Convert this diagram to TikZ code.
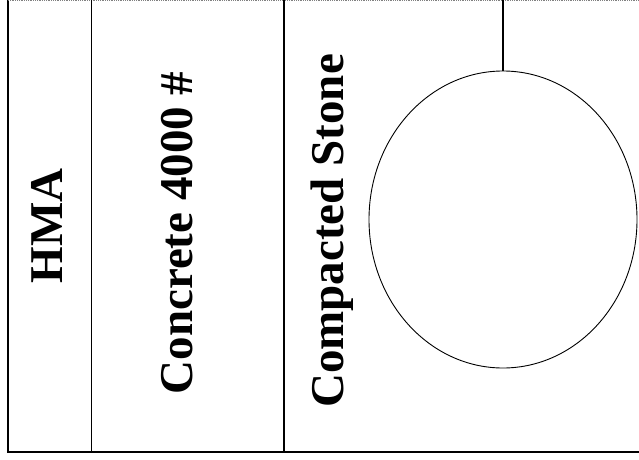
\documentclass[tikz,border=0pt]{standalone}
\usepackage{fontspec}
\setmainfont{Liberation Serif}
\usepackage{tikz}
\usetikzlibrary{positioning, shapes.geometric}

\begin{document}
\begin{tikzpicture}[
    x=1pt, y=1pt,
    frame/.style={line width=1.4pt},
    layer/.style={rotate=90, inner sep=0pt, font=\fontsize{47}{50}\selectfont\bfseries},
    pipe/.style={ellipse, draw, line width=0.9pt, minimum width=268pt, minimum height=297pt, inner sep=0pt}
]
\useasboundingbox (0,0) rectangle (639,459);

% cross-section frame
\draw[frame] (8,459) -- (8,7) -- (639,7);
\draw[gray, line width=0.8pt, densely dotted] (8,458.6) -- (639,458.6);
\draw[frame] (91.5,459) -- (91.5,7);
\draw[frame] (284,459) -- (284,7);

% layers
\node[layer] (hma) at (47,233) {HMA};
\node[layer] (conc) at (177,226) {Concrete 4000 \#};
\node[layer] (stone) at (332,228) {Compacted Stone};

% pipe and riser
\node[pipe] (pipe) at (503,239.5) {};
\coordinate (riser) at (503,459);
\draw[line width=1.2pt] (riser) -- (pipe.north);
\end{tikzpicture}
\end{document}
